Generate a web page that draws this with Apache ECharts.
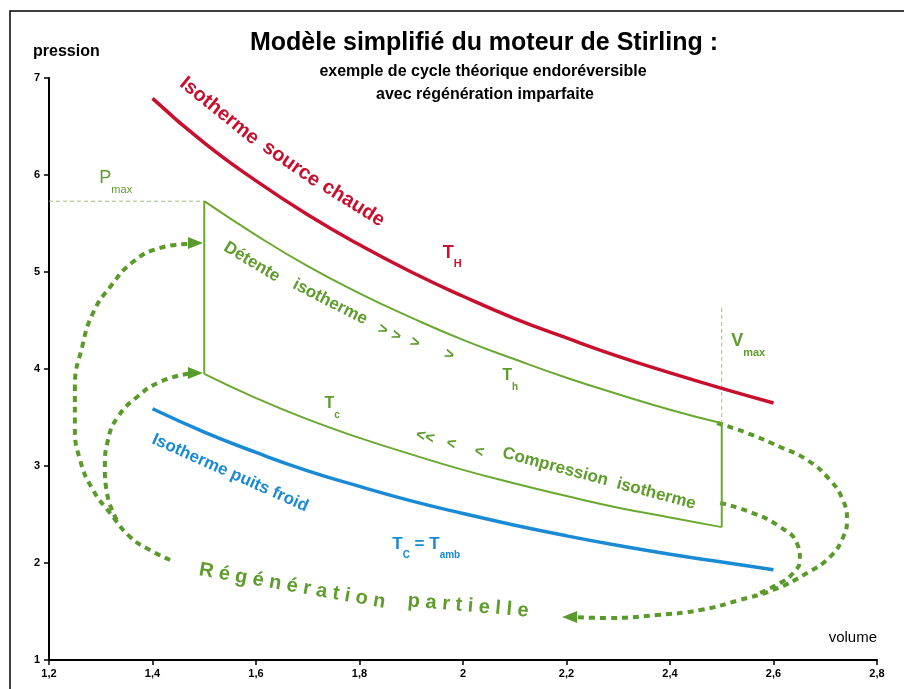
<!DOCTYPE html>
<html>
<head>
<meta charset="utf-8">
<script src="https://cdn.jsdelivr.net/npm/echarts@6/dist/echarts.min.js"></script>
<style>
html,body{margin:0;padding:0;background:#fff;}
#c{width:904px;height:689px;}
</style>
</head>
<body>
<div id="c"></div>
<script>
// ---- Data ----
// Hot source isotherm (red)
const vHot = [1.4,1.5,1.6,1.7,1.8,1.9,2.0,2.1,2.2,2.3,2.4,2.5,2.6];
const pHot = [6.79,6.33,5.94,5.59,5.28,5.00,4.75,4.52,4.32,4.13,3.96,3.80,3.65];
// Cold sink isotherm (blue)
const vCold = [1.4,1.5,1.6,1.7,1.8,1.9,2.0,2.1,2.2,2.3,2.4,2.5,2.6];
const pCold = [3.59,3.35,3.14,2.95,2.79,2.64,2.51,2.39,2.28,2.18,2.09,2.01,1.93];
// Cycle (green): isothermal expansion (Th) and compression (Tc)
const vCycle = [1.5,1.6,1.7,1.8,1.9,2.0,2.1,2.2,2.3,2.4,2.5];
const pExpansion = [5.73,5.38,5.06,4.78,4.53,4.30,4.10,3.91,3.74,3.58,3.44];
const pCompression = [3.95,3.70,3.48,3.29,3.12,2.96,2.82,2.69,2.57,2.47,2.37];
// Pmax / Vmax reference lines
const pMax = 5.73, vMin = 1.5, vMax = 2.5, vMaxTop = 4.63;
// Partial regeneration paths (dashed)
const vRegenRightOuter = [2.491,2.549,2.613,2.665,2.709,2.734,2.742,2.732,2.709,2.665,2.599,2.535,2.458,2.375,2.278,2.220];
const pRegenRightOuter = [3.443,3.340,3.196,3.062,2.856,2.649,2.443,2.237,2.062,1.897,1.722,1.619,1.515,1.464,1.433,1.442];
const vRegenRightInner = [2.497,2.560,2.613,2.645,2.651,2.638,2.613,2.564];
const pRegenRightInner = [2.619,2.515,2.371,2.206,2.031,1.897,1.794,1.670];
const vRegenLeftOuter = [1.434,1.395,1.357,1.318,1.285,1.260,1.250,1.250,1.264,1.285,1.318,1.362,1.414,1.469];
const pRegenLeftOuter = [2.031,2.134,2.268,2.515,2.753,3.062,3.402,3.814,4.227,4.577,4.845,5.103,5.247,5.290];
const vRegenLeftInner = [1.331,1.312,1.308,1.314,1.333,1.370,1.414,1.469];
const pRegenLeftInner = [2.443,2.722,2.990,3.268,3.505,3.711,3.866,3.952];
// Arrow heads
const vArrow = [1.483,1.483,2.206];
const pArrow = [5.299,3.959,1.443];
const arrowPointsRight = [true,true,false];
// Axis ticks
const xMin = 1.2, xMaxAxis = 2.8, xStep = 0.2;
const yMin = 1, yMaxAxis = 7, yStep = 1;

// ---- Styles ----
const RED = '#c8102e', BLUE = '#1a8ad4', GREEN = '#6aa832', GREEN_T = '#5e9c2c', GREEN_D = '#5a9a2a';
const FF = "'Liberation Sans', Arial, sans-serif";
const FFN = "'Liberation Sans Narrow', 'Liberation Sans', Arial, sans-serif";

const zip = (a, b) => a.map((v, i) => [v, b[i]]);

// Annotations (data coordinates)
const notes = [
  {v:1.529, p:6.660, t:'Isotherme', rot:-39, c:RED, fs:20},
  {v:1.668, p:6.113, t:'source', rot:-35, c:RED, fs:20},
  {v:1.788, p:5.705, t:'chaude', rot:-32, c:RED, fs:20},
  {v:1.979, p:5.155, t:'{m|T}{s|H}', c:RED, fs:18},
  {v:1.592, p:5.103, t:'Détente', rot:-31, c:GREEN_T, fs:17},
  {v:1.743, p:4.691, t:'isotherme', rot:-27, c:GREEN_T, fs:17},
  {v:1.845, p:4.402, t:'>', rot:-20, c:GREEN_T, fs:16},
  {v:1.871, p:4.340, t:'>', rot:-20, c:GREEN_T, fs:16},
  {v:1.907, p:4.268, t:'>', rot:-20, c:GREEN_T, fs:16},
  {v:1.973, p:4.144, t:'>', rot:-20, c:GREEN_T, fs:16},
  {v:2.091, p:3.887, t:'{m|T}{s|h}', c:GREEN_T, fs:16},
  {v:1.747, p:3.598, t:'{m|T}{s|c}', c:GREEN_T, fs:16},
  {v:1.927, p:3.299, t:'<<', rot:-15, c:GREEN_T, fs:16},
  {v:1.977, p:3.227, t:'<', rot:-15, c:GREEN_T, fs:16},
  {v:2.031, p:3.144, t:'<', rot:-15, c:GREEN_T, fs:16},
  {v:2.263, p:2.870, t:'Compression  isotherme', rot:-15, c:GREEN_T, fs:17},
  {v:2.551, p:4.247, t:'{m|V}{s|max}', c:GREEN_T, fs:18},
  {v:1.329, p:5.928, t:'{m|P}{s|max}', c:GREEN_T, fs:18, normal:true},
  {v:1.550, p:2.928, t:'Isotherme puits froid', rot:-24, c:BLUE, fs:17},
  {v:1.929, p:2.155, t:'{m|T}{s|C}{m| = T}{s|amb}', c:BLUE, fs:17},
  {v:1.670, p:1.763, t:'R é g é n é r a t i o n', rot:-10, c:GREEN_T, fs:20},
  {v:2.010, p:1.557, t:'p a r t i e l l e', rot:-5, c:GREEN_T, fs:20}
];

const chart = echarts.init(document.getElementById('c'), null, {renderer:'canvas'});

const solid = (name, data, color, width, smooth) => ({
  name, type:'line', data, smooth, symbol:'none', silent:true,
  lineStyle:{color, width}, z:3
});
const dashed = (name, data) => ({
  name, type:'line', data, smooth:0.5, symbol:'none', silent:true,
  lineStyle:{color:GREEN_D, width:4, type:[6,5], cap:'butt'}, z:2
});
const thinDash = (name, data) => ({
  name, type:'line', data, symbol:'none', silent:true,
  lineStyle:{color:'#9dbd7c', width:1, type:[4,3]}, z:1
});
const txt = (x, y, text, font, align) => ({
  type:'text', x, y, silent:true,
  style:{text, fill:'#000', font, align, verticalAlign:'middle', textAlign:align, textVerticalAlign:'middle'}
});

const option = {
  animation:false,
  backgroundColor:'#fff',
  grid:{left:49, right:27, top:78, bottom:29, containLabel:false},
  xAxis:{
    type:'value', min:xMin, max:xMaxAxis, interval:xStep,
    axisLine:{lineStyle:{color:'#000', width:2}},
    axisTick:{show:true, length:5, lineStyle:{color:'#000', width:1.5}},
    splitLine:{show:false},
    axisLabel:{color:'#000', fontSize:11, fontWeight:'bold', fontFamily:FFN, margin:8,
      formatter:v => String(+v.toFixed(1)).replace('.', ',')}
  },
  yAxis:{
    type:'value', min:yMin, max:yMaxAxis, interval:yStep,
    axisLine:{show:true, lineStyle:{color:'#000', width:2}},
    axisTick:{show:true, length:5, lineStyle:{color:'#000', width:1.5}},
    splitLine:{show:false},
    axisLabel:{color:'#000', fontSize:11, fontWeight:'bold', fontFamily:FFN, margin:9}
  },
  graphic:[
    {type:'rect', shape:{x:10, y:11, width:1000, height:1000}, style:{fill:'none', stroke:'#000', lineWidth:1.5}, silent:true, z:-1},
    txt(484, 43, 'Modèle simplifié du moteur de Stirling :', 'bold 25px ' + FF, 'center'),
    txt(483, 72, 'exemple de cycle théorique endoréversible', 'bold 16px ' + FF, 'center'),
    txt(485, 95, 'avec régénération imparfaite', 'bold 16px ' + FF, 'center'),
    txt(33, 52, 'pression', 'bold 16px ' + FFN, 'left'),
    txt(877, 638, 'volume', '15px ' + FFN, 'right')
  ],
  series:[
    solid('Isotherme source chaude', zip(vHot, pHot), RED, 3.5, true),
    solid('Isotherme puits froid', zip(vCold, pCold), BLUE, 3.5, true),
    solid('Détente isotherme', zip(vCycle, pExpansion), GREEN, 2, true),
    solid('Compression isotherme', zip(vCycle, pCompression), GREEN, 2, true),
    solid('Chauffage isochore', [[vMin, pCompression[0]], [vMin, pExpansion[0]]], GREEN, 2, false),
    solid('Refroidissement isochore', [[vMax, pExpansion[pExpansion.length-1]], [vMax, pCompression[pCompression.length-1]]], GREEN, 2, false),
    thinDash('Pmax', [[xMin, pMax], [vMin, pMax]]),
    thinDash('Vmax', [[vMax, vMaxTop], [vMax, pExpansion[pExpansion.length-1]]]),
    dashed('Régénération 1', zip(vRegenRightOuter, pRegenRightOuter)),
    dashed('Régénération 2', zip(vRegenRightInner, pRegenRightInner)),
    dashed('Régénération 3', zip(vRegenLeftOuter, pRegenLeftOuter)),
    dashed('Régénération 4', zip(vRegenLeftInner, pRegenLeftInner)),
    {
      name:'Flèches', type:'scatter', silent:true, z:4,
      data: vArrow.map((v, i) => ({value:[v, pArrow[i]], symbolRotate: arrowPointsRight[i] ? -90 : 90})),
      symbol:'triangle', symbolSize:[12,15],
      itemStyle:{color:GREEN_D, opacity:1}
    },
    {
      name:'Annotations', type:'scatter', silent:true, z:5,
      symbolSize:1, itemStyle:{color:'transparent', opacity:1},
      data: notes.map(n => ({
        value:[n.v, n.p],
        label:{
          show:true, position:'inside', formatter:n.t, rotate:n.rot || 0, opacity:1,
          color:n.c, fontSize:n.fs, fontWeight:n.normal ? 'normal' : 'bold', fontFamily:FF,
          align:'center', verticalAlign:'middle',
          rich:{
            m:{color:n.c, fontSize:n.fs, fontWeight:n.normal ? 'normal' : 'bold', fontFamily:FF, lineHeight:n.fs + 2, verticalAlign:'top'},
            s:{color:n.c, fontSize:Math.round(n.fs*0.6), fontWeight:n.normal ? 'normal' : 'bold', fontFamily:FFN, lineHeight:n.fs + 8, verticalAlign:'bottom'}
          }
        }
      }))
    }
  ]
};
chart.setOption(option);
</script>
</body>
</html>
